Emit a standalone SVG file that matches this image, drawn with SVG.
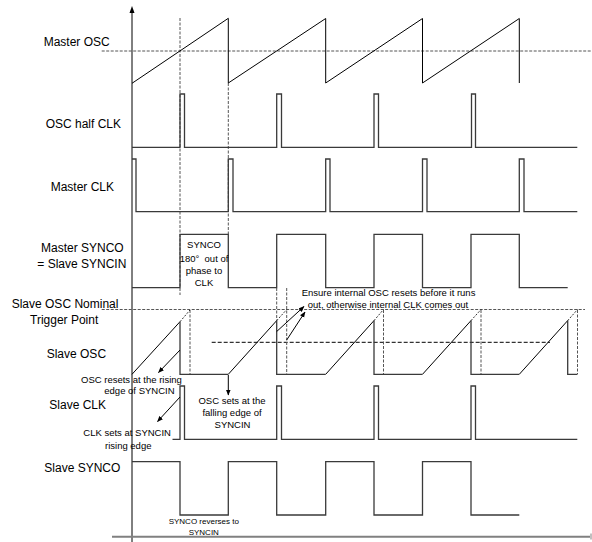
<svg xmlns="http://www.w3.org/2000/svg" width="592" height="542" viewBox="0 0 592 542">
<style>
text{font-family:"Liberation Sans",Arial,sans-serif;fill:#000}
.lbl{font-size:12px}
.sm{font-size:9.5px}
.xs{font-size:8px}
.mid{text-anchor:middle}
.saw{fill:none;stroke:#000;stroke-width:1}
.sq{fill:none;stroke:#3a3a3a;stroke-width:1.3}
.dg{fill:none;stroke:#555;stroke-width:1;stroke-dasharray:3 1.5}
.db{fill:none;stroke:#000;stroke-width:1;stroke-dasharray:4 2}
.ext{fill:none;stroke:#000;stroke-width:0.8;stroke-dasharray:2 1.5}
.arr{fill:none;stroke:#000;stroke-width:1;marker-end:url(#ah)}
</style>
<defs>
<marker id="ah" viewBox="0 0 10 10" refX="9" refY="5" markerWidth="6" markerHeight="6" orient="auto" markerUnits="userSpaceOnUse">
<path d="M0,1 L10,5 L0,9 Z" fill="#000"/>
</marker>
</defs>

<g id="axes">
<path d="M132,542 V12" stroke="#000" stroke-width="1" fill="none"/>
<path d="M129.5,13 L132,6 L134.5,13 Z" fill="#000"/>
<path d="M112,536.7 H590" stroke="#808080" stroke-width="2" fill="none"/>
<path d="M591,533.5 V539.5" stroke="#808080" stroke-width="1" fill="none"/>
</g>

<g id="guides">
<path class="dg" d="M101.7,51 H592"/>
<path class="dg" d="M180,18 V295"/>
<path class="dg" d="M228.3,83 V234"/>
<path class="dg" d="M101.7,309.5 H585"/>
<path class="db" d="M211.7,342.3 H550"/>
<path class="dg" d="M190,310 V374.3 M276.7,288 V320.6 M286.7,288 V374.3 M383.5,310 V374.3 M481,310 V374.3 M577.5,310 V374.3"/>
</g>

<g id="master-osc">
<text class="lbl" x="43.7" y="46">Master OSC</text>
<path class="saw" d="M132,83.3 L228.3,18.3 V83 L325.7,18.5 V83 L422.5,18.5 V83 L519.3,18.5 V83"/>
</g>

<g id="osc-half-clk">
<text class="lbl" x="45.7" y="127.5">OSC half CLK</text>
<path class="sq" d="M132,147.3 H180 V94 H184.5 V147.3 H276.7 V94 H281.5 V147.3 H374 V94 H378.5 V147.3 H471.5 V94 H475.5 V147.3 H577.3"/>
</g>

<g id="master-clk">
<text class="lbl" x="50.7" y="191">Master CLK</text>
<path class="sq" d="M132,159 H136 V211.7 H228.3 V159 H233 V211.7 H325.7 V159 H330 V211.7 H422.5 V159 H427 V211.7 H519.3 V159 H524 V211.7 H577.3"/>
</g>

<g id="master-synco">
<text class="lbl" x="41" y="251.5">Master SYNCO</text>
<text class="lbl" x="37.3" y="268">= Slave SYNCIN</text>
<path class="sq" d="M132,287.7 H180 V234.3 H228.3 V287.7 H276.7 V234.3 H325.7 V287.7 H374 V234.3 H422.5 V287.7 H471 V234.3 H519.3 V287.7 H567.7"/>
<text class="sm mid" x="204" y="247.7">SYNCO</text>
<text class="sm mid" x="204" y="262" xml:space="preserve">180°  out of</text>
<text class="sm mid" x="204" y="273.5">phase to</text>
<text class="sm mid" x="204" y="286">CLK</text>
</g>

<g id="slave-osc">
<text class="lbl" x="11.7" y="308">Slave OSC Nominal</text>
<text class="lbl" x="30" y="323.5">Trigger Point</text>
<text class="lbl" x="46.7" y="357.5">Slave OSC</text>
<path class="saw" d="M132,374.3 L180,321.7 M228.3,374.3 L276.7,320.6 M325.7,374.3 L374,320.6 M422.5,374.3 L471,320.6 M519.3,374.3 L567.7,320.6"/>
<path class="sq" d="M180,321.7 V374.3 H228.3 M276.7,320.6 V374.3 H325.7 M374,320.6 V374.3 H422.5 M471,320.6 V374.3 H519.3 M567.7,320.6 V374.3 H577.3"/>
<path class="ext" d="M180,321.7 L190,310 M276.7,320.6 L286.7,309.5 M374,320.6 L383.5,309.5 M471,320.6 L481,309.5 M567.7,320.6 L577.5,309.5"/>
</g>

<g id="slave-clk">
<text class="lbl" x="49.3" y="409">Slave CLK</text>
<path class="sq" d="M172.5,439.3 H180 V386 H184.5 V439.3 H276.7 V386 H281.5 V439.3 H374 V386 H378.5 V439.3 H471 V386 H475.5 V439.3 H577.3"/>
</g>

<g id="slave-synco">
<text class="lbl" x="44.3" y="471.5">Slave SYNCO</text>
<path class="sq" d="M132,461.7 H180 V515 H228.3 V461.7 H276.7 V515 H325.7 V461.7 H374 V515 H422.5 V461.7 H471 V515 H519.3"/>
<text class="xs mid" x="203.8" y="524">SYNCO reverses to</text>
<text class="xs mid" x="203.8" y="535.2">SYNCIN</text>
</g>

<g id="notes">
<text class="sm" x="81" y="383.4">OSC resets at the rising</text>
<text class="sm" x="104.3" y="394.4">edge of SYNCIN</text>
<text class="sm mid" x="232" y="404">OSC sets at the</text>
<text class="sm mid" x="232" y="416">falling edge of</text>
<text class="sm mid" x="232.5" y="428.4">SYNCIN</text>
<text class="sm" x="83.3" y="436">CLK sets at SYNCIN</text>
<text class="sm" x="105" y="449">rising edge</text>
<text class="sm" x="301.7" y="296">Ensure internal OSC resets before it runs</text>
<text class="sm" x="307.7" y="308.4">out, otherwise internal CLK comes out</text>
</g>

<g id="connectors">
<path class="arr" d="M180,350 L158.5,372.5"/>
<path class="arr" d="M180,397 L157.5,421.5"/>
<path class="arr" d="M228.3,375 L228.3,395"/>
<path class="arr" d="M276.7,331.5 L304,306.5"/>
<path class="arr" d="M286.7,340 L305,312"/>
</g>
</svg>
